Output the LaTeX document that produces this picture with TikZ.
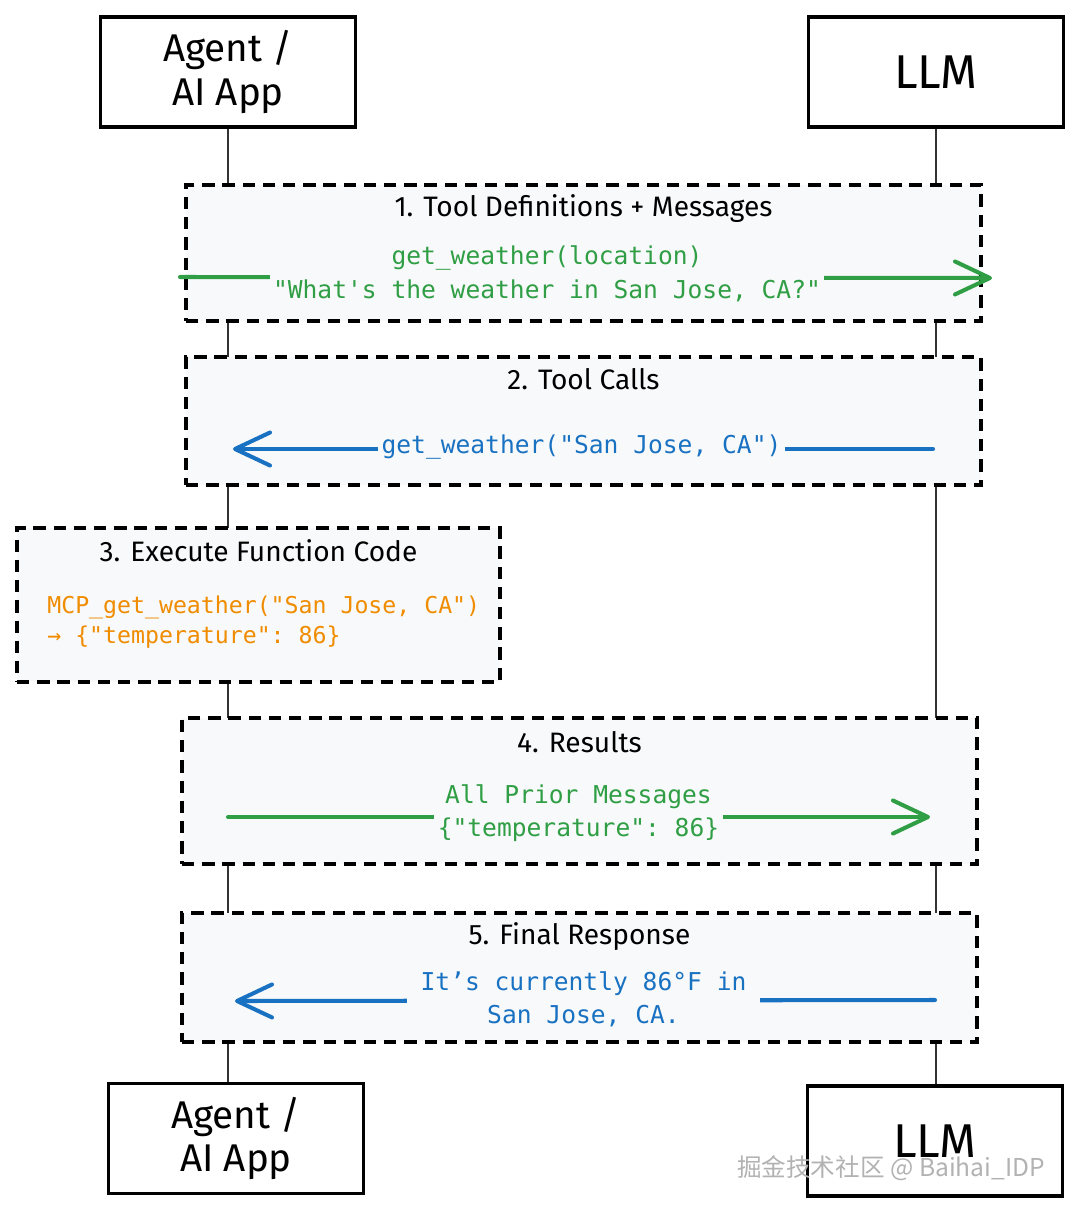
\documentclass[tikz,border=0pt]{standalone}
\usepackage{fontspec}
\setmainfont{Fira Sans}
\setmonofont{DejaVu Sans Mono}
\newfontfamily\cjkfont{Noto Sans CJK SC}
\usetikzlibrary{arrows.meta}
\definecolor{msgGreen}{HTML}{2F9E44}
\definecolor{msgBlue}{HTML}{1971C2}
\definecolor{codeOrange}{HTML}{F08C00}
\definecolor{frameFill}{HTML}{F8F9FA}
\definecolor{lineGray}{HTML}{333333}
\tikzset{
  actor/.style = {draw, line width=1.8pt, minimum width=5.1cm, minimum height=2.2cm,
    align=center, font=\fontsize{22}{25}\selectfont},
  bigactor/.style = {actor, font=\fontsize{27}{30}\selectfont},
  lifeline/.style = {line width=0.8pt, lineGray},
  frame/.style = {draw, fill=frameFill, line width=2.3pt, dash pattern=on 7pt off 4.5pt,
    minimum width=15.9cm},
  steptitle/.style = {font=\fontsize{16}{19}\selectfont, inner sep=0pt},
  msg/.style = {line width=2.3pt, line cap=round, -{Straight Barb[length=7mm,width=6.6mm,round]}},
  code/.style = {font=\ttfamily\fontsize{14}{19}\selectfont, align=center, fill=frameFill,
    inner xsep=2pt, inner ysep=1pt}
}

\begin{document}
\begin{tikzpicture}[x=0.02cm, y=-0.02cm]
  \useasboundingbox (0,0) rectangle (1080,1213);

  % actors
  \node[actor] (agentTop) at (228,72) {Agent /\\AI App};
  \node[bigactor] (llmTop) at (936,72) {LLM};
  \node[actor] (agentBot) at (236,1138.5) {Agent /\\AI App};
  \node[bigactor] (llmBot) at (935,1141) {LLM};

  % lifelines
  \draw[lifeline] (agentTop.south) -- (agentTop.south |- agentBot.north);
  \draw[lifeline] (llmTop.south) -- (llmTop.south |- llmBot.north);

  % 1. tool definitions
  \node[frame, minimum height=2.72cm] (f1) at (583.5,253) {};
  \node[steptitle] (t1) at ([yshift=-0.52cm]f1.north) {1. Tool Definitions + Messages};
  \coordinate (m1a) at (180,277);
  \coordinate (m1b) at (992,278);
  \draw[msg, msgGreen] (m1a) -- (m1b);
  \node[code, text=msgGreen] (msg1) at (547,274)
    {get\_weather(location)\\"What's the weather in San Jose, CA?"};

  % 2. tool calls
  \node[frame, minimum height=2.56cm] (f2) at (583.5,421) {};
  \node[steptitle] (t2) at ([yshift=-0.48cm]f2.north) {2. Tool Calls};
  \coordinate (m2a) at (933,449);
  \coordinate (m2b) at (233,449);
  \draw[msg, msgBlue] (m2a) -- (m2b);
  \node[code, text=msgBlue] (msg2) at (581.5,447) {get\_weather("San Jose, CA")};

  % 3. execute function code
  \node[frame, minimum width=9.66cm, minimum height=3.08cm] (f3) at (258.5,605) {};
  \node[steptitle] (t3) at ([yshift=-0.5cm]f3.north) {3. Execute Function Code};
  \node[code, text=codeOrange, align=left, anchor=west, inner sep=0pt,
    font=\ttfamily\fontsize{13.2}{17.5}\selectfont] (code3) at (47,622)
    {MCP\_get\_weather("San Jose, CA")\\→ \{"temperature": 86\}};

  % 4. results
  \node[frame, minimum height=2.92cm] (f4) at (579.5,791) {};
  \node[steptitle] (t4) at ([yshift=-0.52cm]f4.north) {4. Results};
  \coordinate (m4a) at (228,817);
  \coordinate (m4b) at (930,817);
  \draw[msg, msgGreen] (m4a) -- (m4b);
  \node[code, text=msgGreen] (msg4) at (578.5,813)
    {All Prior Messages\\\{"temperature": 86\}};

  % 5. final response
  \node[frame, minimum height=2.58cm] (f5) at (579.5,977.5) {};
  \node[steptitle] (t5) at ([yshift=-0.52cm]f5.north) {5. Final Response};
  \coordinate (m5a) at (935,1000);
  \coordinate (m5b) at (235,1001);
  \draw[msg, msgBlue] (m5a) -- (m5b);
  \node[code, text=msgBlue, inner xsep=8pt] (msg5) at (583.5,999)
    {It’s currently 86°F in\\San Jose, CA.};

  % watermark
  \node[text=gray!60, font=\cjkfont\fontsize{14}{16}\selectfont] (mark) at (891,1168)
    {掘金技术社区 @ Baihai\_IDP};
\end{tikzpicture}
\end{document}
